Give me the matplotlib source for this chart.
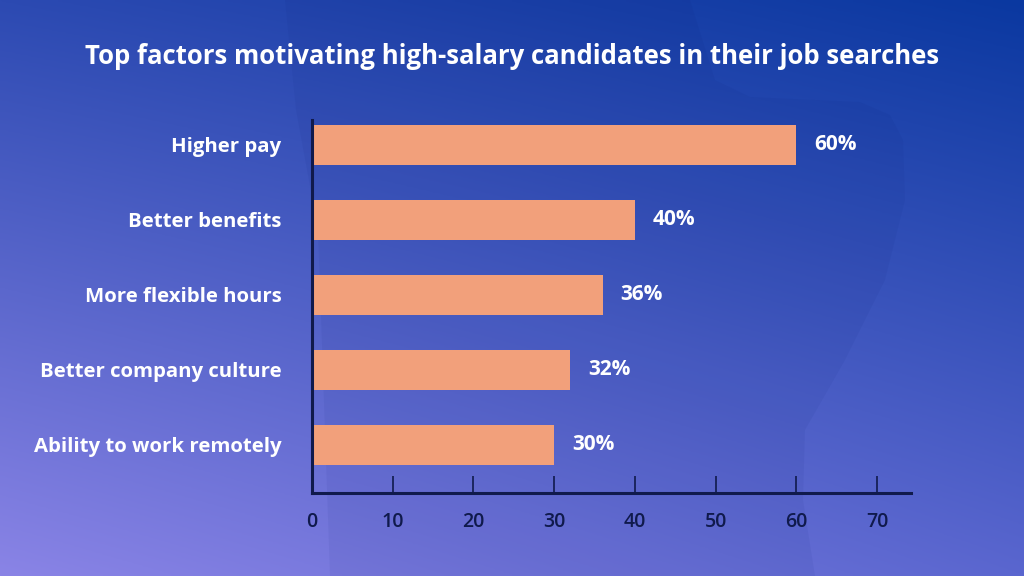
import numpy as np
import matplotlib as mpl
mpl.use('Agg')
import matplotlib.pyplot as plt
from matplotlib.colors import to_rgb
from matplotlib.patches import Polygon

# chart data
categories = ["Higher pay", "Better benefits", "More flexible hours",
              "Better company culture", "Ability to work remotely"]
values = [60, 40, 36, 32, 30]
xticks = [0, 10, 20, 30, 40, 50, 60, 70]
title = "Top factors motivating high-salary candidates in their job searches"

plt.rcParams['font.family'] = ['Open Sans', 'DejaVu Sans']

W, H = 1024, 576
fig = plt.figure(figsize=(W / 100, H / 100), dpi=100)

# background: bilinear blend of four corner colours
bg = fig.add_axes([0, 0, 1, 1])
bg.set_axis_off()
tl, tr = np.array(to_rgb("#2c4ab2")), np.array(to_rgb("#0a38a0"))
bl, br = np.array(to_rgb("#8a84e6")), np.array(to_rgb("#5a66cf"))
yy, xx = np.mgrid[0:1:200j, 0:1:360j]
xx, yy = xx[..., None], yy[..., None]   # yy = 0 at bottom
img = (bl * (1 - xx) * (1 - yy) + br * xx * (1 - yy)
       + tl * (1 - xx) * yy + tr * xx * yy)
bg.imshow(img, extent=[0, W, 0, H], origin='lower', aspect='auto')
# faint darker shape behind the chart (top-left y coords, flipped below)
blob_pts = [(285, 0), (690, 0), (715, 80), (750, 97), (860, 102),
            (890, 115), (903, 140), (905, 200), (885, 280), (845, 360),
            (805, 430), (803, 500), (815, 576), (330, 576), (318, 230),
            (296, 110)]
blob = Polygon([(x, H - y) for x, y in blob_pts], closed=True,
               facecolor="#061a70", alpha=0.06, edgecolor='none')
bg.add_patch(blob)
bg.set_xlim(0, W)
bg.set_ylim(0, H)

ax = fig.add_axes([312 / W, 1 - 493 / H, (911 - 312) / W, (493 - 120) / H])
ax.patch.set_alpha(0)

ypos = np.arange(len(categories))
ax.barh(ypos, values, height=0.53, color="#f2a07b")
for y, v in zip(ypos, values):
    ax.annotate(f"{v}%", (v, y), xytext=(13, 0), textcoords='offset points',
                va='center', ha='left', color='white',
                fontsize=15, fontweight='bold')

ax.set_xlim(0, 74.2)
ax.set_ylim(len(categories) - 1 + 0.64, -0.33)
ax.set_yticks(ypos)
ax.set_yticklabels(categories, color='white', fontsize=14.7, fontweight='bold')
ax.tick_params(axis='y', length=0, pad=22)
ax.set_xticks(xticks)
ax.set_xticklabels([str(x) for x in xticks], color='#101a4c', fontsize=14,
                   fontweight='semibold')
ax.tick_params(axis='x', direction='in', length=12, width=1.2,
               color='#101a4c', pad=14)

for s in ['top', 'right']:
    ax.spines[s].set_visible(False)
for s in ['left', 'bottom']:
    ax.spines[s].set_color('#101a4c')
    ax.spines[s].set_linewidth(2.2)

fig.text(0.5, 1 - 57 / H, title, ha='center', va='center', color='white',
         fontsize=18.5, fontweight='bold')

fig.savefig("out.png", dpi=100)
